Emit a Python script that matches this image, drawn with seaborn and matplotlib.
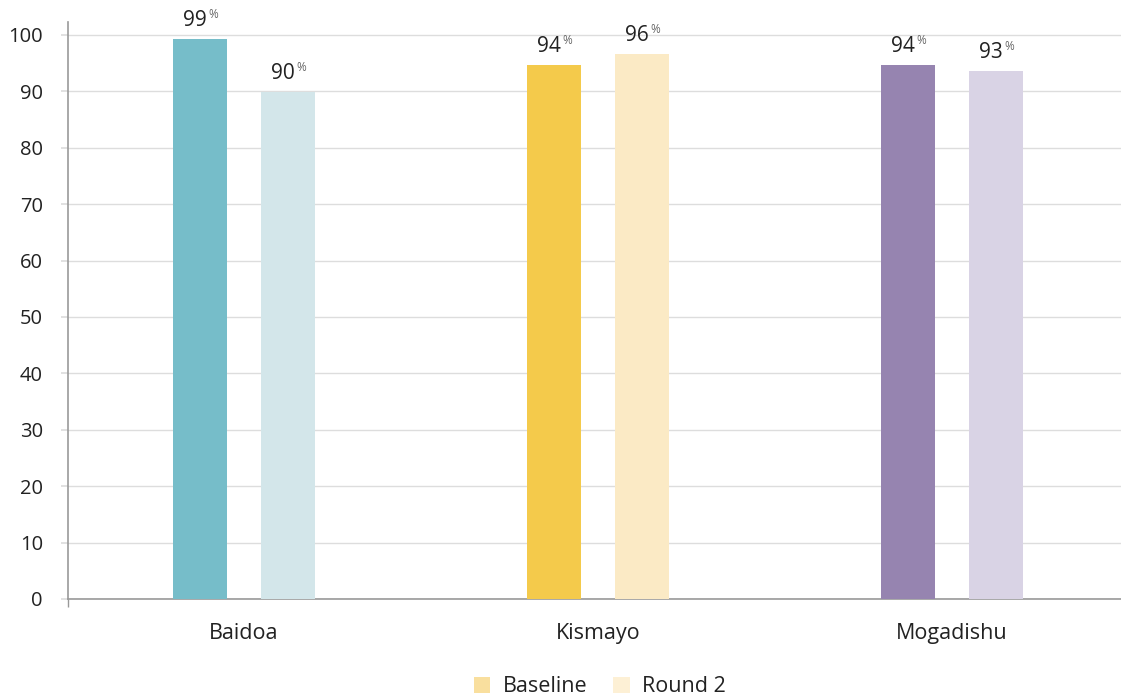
import matplotlib
matplotlib.use("Agg")
import matplotlib.pyplot as plt
import seaborn as sns
import pandas as pd
from matplotlib.patches import Patch

cities = ["Baidoa", "Kismayo", "Mogadishu"]
rounds = ["Baseline", "Round 2"]
baseline = [99.3, 94.7, 94.7]
round2 = [89.9, 96.6, 93.6]
baseline_labels = ["99", "94", "94"]
round2_labels = ["90", "96", "93"]
baseline_colors = ["#76bdc9", "#f4ca4b", "#9684b0"]
round2_colors = ["#d3e6ea", "#fbeac5", "#d9d3e5"]
legend_colors = ["#f9df9e", "#fdf0d5"]
yticks = [0, 10, 20, 30, 40, 50, 60, 70, 80, 90, 100]

df = pd.DataFrame({
    "city": cities * 2,
    "round": [rounds[0]] * 3 + [rounds[1]] * 3,
    "value": baseline + round2,
})

sns.set_theme(style="white")
plt.rcParams["font.family"] = ["Open Sans", "DejaVu Sans"]

fig = plt.figure(figsize=(11.21, 6.96), dpi=100)
ax = fig.add_axes([68 / 1121, 1 - 599 / 696, (1121 - 68) / 1121, (599 - 22) / 696])

sns.barplot(data=df, x="city", y="value", hue="round", order=cities,
            hue_order=rounds, width=0.497, gap=0.386, ax=ax,
            palette=legend_colors, legend=False, errorbar=None, zorder=3)

color_sets = [baseline_colors, round2_colors]
label_sets = [baseline_labels, round2_labels]
for cont, cols, labs in zip(ax.containers, color_sets, label_sets):
    for bar, c, lab in zip(cont.patches, cols, labs):
        bar.set_facecolor(c)
        bar.set_edgecolor("none")
        cx = bar.get_x() + bar.get_width() / 2
        top = bar.get_height()
        ax.annotate(lab, (cx, top), xytext=(7, 13), textcoords="offset pixels",
                    ha="right", va="baseline", fontsize=15, color="#222222")
        ax.annotate("%", (cx, top), xytext=(8, 21), textcoords="offset pixels",
                    ha="left", va="baseline", fontsize=8.5, color="#666666")

ax.set_ylim(0, 102.3)
ax.set_xlim(-0.497, 2.477)
ax.set_yticks(yticks)
ax.set_yticklabels([str(t) for t in yticks])
ax.yaxis.grid(True, color="#dddddd", linewidth=1, zorder=0)
ax.set_axisbelow(True)
ax.tick_params(axis="y", length=5, color="#dddddd", labelsize=14.5,
               labelcolor="#222222", pad=13, left=True)
ax.tick_params(axis="x", length=0, labelsize=15.5, labelcolor="#222222", pad=17)
ax.set_xticks([-0.497], minor=True)
ax.tick_params(axis="x", which="minor", length=6, color="#999999", bottom=True)
ax.set_xlabel("")
ax.set_ylabel("")
for s in ["top", "right"]:
    ax.spines[s].set_visible(False)
for s in ["left", "bottom"]:
    ax.spines[s].set_color("#999999")
    ax.spines[s].set_linewidth(1.2)

handles = [Patch(facecolor=c, edgecolor="none", label=r) for c, r in zip(legend_colors, rounds)]
fig.legend(handles=handles, loc="center", bbox_to_anchor=(600 / 1121, 1 - 687 / 696),
           ncol=2, frameon=False, fontsize=15.5, handlelength=0.75, handleheight=0.75,
           columnspacing=1.2, handletextpad=0.6, labelcolor="#222222",
           borderpad=0, borderaxespad=0)

fig.savefig("out.png", dpi=100)
